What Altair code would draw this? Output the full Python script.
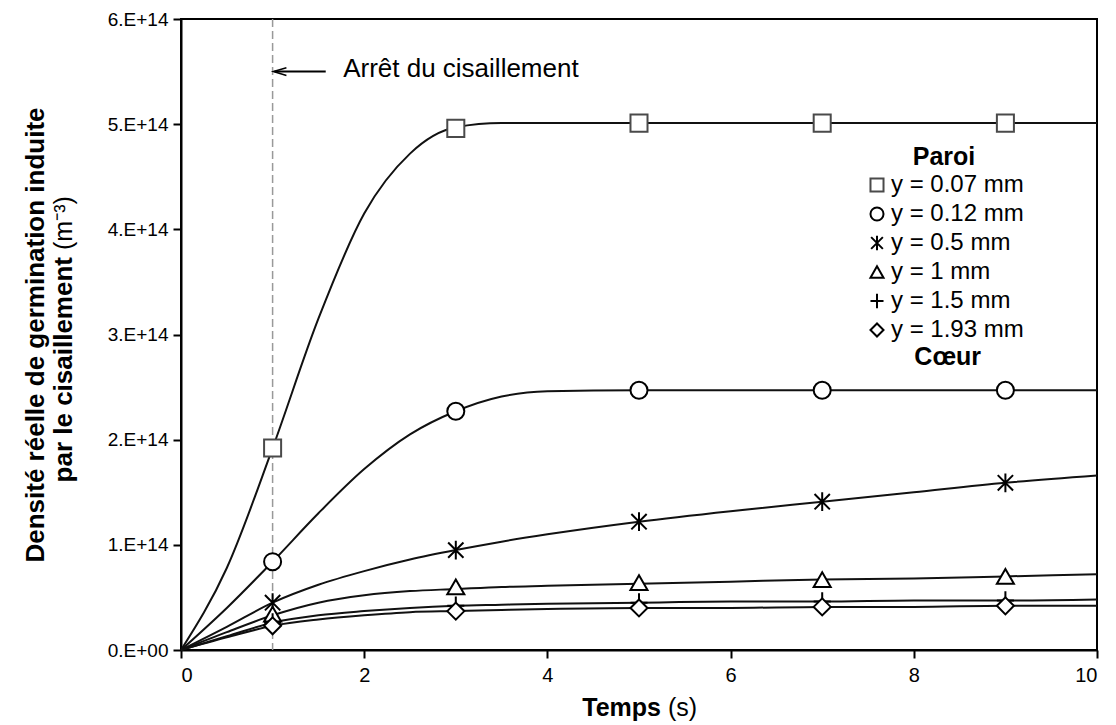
import altair as alt
import pandas as pd

# ---- data ----
series = ["y = 0.07 mm", "y = 0.12 mm", "y = 0.5 mm", "y = 1 mm", "y = 1.5 mm", "y = 1.93 mm"]

t_curve = [0, 0.5, 1, 1.5, 2, 2.5, 3, 3.5, 4, 5, 6, 7, 8, 9, 10]
c_007 = [0, 0.78, 1.92, 3.15, 4.15, 4.72, 4.97, 5.01, 5.01, 5.01, 5.01, 5.01, 5.01, 5.01, 5.01]
c_012 = [0, 0.40, 0.84, 1.30, 1.72, 2.05, 2.27, 2.41, 2.46, 2.47, 2.47, 2.47, 2.47, 2.47, 2.47]
c_05 = [0, 0.22, 0.45, 0.62, 0.75, 0.86, 0.95, 1.03, 1.10, 1.22, 1.32, 1.41, 1.50, 1.59, 1.66]
c_1 = [0, 0.17, 0.33, 0.45, 0.52, 0.56, 0.58, 0.60, 0.61, 0.63, 0.65, 0.67, 0.68, 0.70, 0.72]
c_15 = [0, 0.13, 0.26, 0.33, 0.37, 0.40, 0.42, 0.43, 0.44, 0.45, 0.46, 0.46, 0.47, 0.47, 0.48]
c_193 = [0, 0.12, 0.23, 0.29, 0.33, 0.36, 0.37, 0.38, 0.39, 0.40, 0.40, 0.41, 0.41, 0.42, 0.42]

t_marker = [1, 3, 5, 7, 9]
m_007 = [1.92, 4.96, 5.01, 5.01, 5.01]
m_012 = [0.84, 2.27, 2.47, 2.47, 2.47]
m_05 = [0.45, 0.95, 1.22, 1.41, 1.59]
m_1 = [0.34, 0.60, 0.64, 0.67, 0.70]
m_15 = [0.26, 0.42, 0.45, 0.46, 0.47]
m_193 = [0.23, 0.37, 0.40, 0.41, 0.42]

unit = 1e14
y_ticks = [0, 1e14, 2e14, 3e14, 4e14, 5e14, 6e14]
x_ticks = [0, 2, 4, 6, 8, 10]

shapes = [
    "square",
    "circle",
    "M-0.9,-0.9L0.9,0.9M-0.9,0.9L0.9,-0.9M0,-1.1L0,1.1",
    "triangle-up",
    "M-1,0L1,0M0,-1.1L0,1.1",
    "diamond",
]
strokes = ["#4a4a4a", "black", "black", "black", "black", "black"]

curves = [c_007, c_012, c_05, c_1, c_15, c_193]
markers = [m_007, m_012, m_05, m_1, m_15, m_193]

line_rows = []
for s, vals in zip(series, curves):
    for t, v in zip(t_curve, vals):
        line_rows.append({"serie": s, "t": t, "n": v * unit})
line_df = pd.DataFrame(line_rows)

mark_rows = []
for s, vals in zip(series, markers):
    for t, v in zip(t_marker, vals):
        mark_rows.append({"serie": s, "t": t, "n": v * unit})
mark_df = pd.DataFrame(mark_rows)

FONT = "Liberation Sans"

xscale = alt.Scale(domain=[0, 10], nice=False)
yscale = alt.Scale(domain=[0, 6e14], nice=False)

x_enc = alt.X(
    "t:Q", scale=xscale,
    axis=alt.Axis(title=None, values=x_ticks, format="d", labelPadding=7, labelFontSize=20),
)
y_enc = alt.Y(
    "n:Q", scale=yscale,
    axis=alt.Axis(
        title=None,
        values=y_ticks,
        labelExpr="datum.value == 0 ? '0.E+00' : format(round(datum.value/1e14), 'd') + '.E+14'",
        labelPadding=5, labelFontSize=19,
    ),
)

lines = alt.Chart(line_df).mark_line(interpolate="monotone", strokeWidth=2, color="#111").encode(
    x=x_enc, y=y_enc, detail="serie:N"
)

points = alt.Chart(mark_df).mark_point(filled=True, fill="white", strokeWidth=2, size=290, opacity=1).encode(
    x="t:Q",
    y="n:Q",
    shape=alt.Shape(
        "serie:N",
        scale=alt.Scale(domain=series, range=shapes),
        legend=alt.Legend(
            title="Paroi", orient="none", legendX=684, legendY=126,
            titleAnchor="middle", titleFontSize=25, titleFontWeight="bold", titleFont=FONT,
            titleColor="black", labelFont=FONT, labelFontSize=24, labelColor="black",
            symbolSize=170, symbolStrokeWidth=2, symbolFillColor="white",
            rowPadding=5, padding=0, titlePadding=3, labelOffset=2,
        ),
    ),
    stroke=alt.Stroke("serie:N", scale=alt.Scale(domain=series, range=strokes), legend=None),
)

dashed = alt.Chart(pd.DataFrame({"t": [1]})).mark_rule(
    color="#999999", strokeDash=[8, 4], strokeWidth=1.5
).encode(x="t:Q")

arrow_df = pd.DataFrame({"t0": [1.02], "t1": [1.58], "n": [5.50e14]})
arrow = alt.Chart(arrow_df).mark_rule(color="black", strokeWidth=2).encode(
    x="t0:Q", x2="t1:Q", y="n:Q"
)
head = alt.Chart(pd.DataFrame({"t": [1.08], "n": [5.50e14]})).mark_point(
    shape="M1,-0.6L-1,0L1,0.6", size=169, strokeWidth=1.5, color="black", filled=False, opacity=1
).encode(x="t:Q", y="n:Q")

label_df = pd.DataFrame({"t": [1.77], "n": [5.52e14], "txt": ["Arrêt du cisaillement"]})
label = alt.Chart(label_df).mark_text(
    align="left", baseline="middle", font=FONT, fontSize=26, color="black"
).encode(x="t:Q", y="n:Q", text="txt:N")

coeur_df = pd.DataFrame({"t": [8.37], "n": [2.79e14], "txt": ["Cœur"]})
coeur = alt.Chart(coeur_df).mark_text(
    align="center", baseline="middle", font=FONT, fontSize=25, fontWeight="bold", color="black"
).encode(x="t:Q", y="n:Q", text="txt:N")

# ---- axis titles (mixed bold / regular) ----
one = pd.DataFrame({"k": [0]})
x_title_b = alt.Chart(one).mark_text(
    text="Temps", align="right", baseline="middle", font=FONT, fontSize=25, fontWeight="bold", color="black"
).encode(x=alt.value(480), y=alt.value(689))
x_title_r = alt.Chart(one).mark_text(
    text="(s)", align="left", baseline="middle", font=FONT, fontSize=25, color="black"
).encode(x=alt.value(487), y=alt.value(689))

y_title_1 = alt.Chart(one).mark_text(
    text="Densité réelle de germination induite", angle=270, align="center", baseline="middle",
    font=FONT, fontSize=26, fontWeight="bold", color="black"
).encode(x=alt.value(-145), y=alt.value(316))
y_title_2b = alt.Chart(one).mark_text(
    text="par le cisaillement", angle=270, align="right", baseline="middle",
    font=FONT, fontSize=26, fontWeight="bold", color="black"
).encode(x=alt.value(-117), y=alt.value(238))
y_title_2r = alt.Chart(one).mark_text(
    text="(m⁻³)", angle=270, align="left", baseline="middle",
    font=FONT, fontSize=25, color="black"
).encode(x=alt.value(-117), y=alt.value(231))

chart = alt.layer(
    dashed, lines, points, arrow, head, label, coeur,
    x_title_b, x_title_r, y_title_1, y_title_2b, y_title_2r,
).properties(
    width=916, height=631,
    autosize=alt.AutoSizeParams(type="none"),
    padding={"left": 173, "top": 11, "right": 10, "bottom": 71},
    background="white",
).configure_view(
    stroke="black", strokeWidth=2
).configure_axis(
    grid=False, domainColor="black", domainWidth=2, tickColor="black", tickWidth=2,
    tickSize=8, labelFont=FONT, labelColor="black",
)

chart.save("out.html", embed_options={"renderer": "svg", "actions": False})
